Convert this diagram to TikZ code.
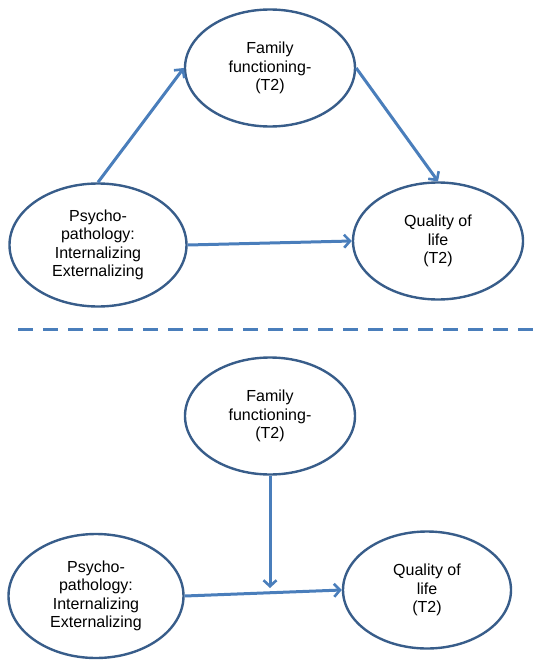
\documentclass[tikz,border=0pt]{standalone}
\usepackage{fontspec}
\setmainfont{Liberation Sans}
\usepackage{tikz}
\usetikzlibrary{shapes.geometric}
\usetikzlibrary{arrows.meta}
\definecolor{ellcol}{RGB}{56,93,138}
\definecolor{arrcol}{RGB}{74,126,187}

\begin{document}
\begin{tikzpicture}[x=1pt,y=-1pt,
    var/.style={ellipse,draw=ellcol,line width=2.4pt,inner sep=0pt,
        minimum width=170pt,minimum height=117pt,align=center,
        font=\fontsize{16}{18.4}\selectfont},
    path/.style={draw=arrcol,line width=3pt,
        -{Straight Barb[length=6pt,width=13pt,line width=2.6pt]}}]
\useasboundingbox (0,0) rectangle (536,661);
% top: mediation
\node[var] (fam1) at (270,68) {Family\\functioning-\\(T2)};
\node[var,minimum width=177pt,minimum height=123pt] (psy1) at (98,245) {Psycho-\\pathology:\\Internalizing\\Externalizing};
\node[var] (qol1) at (438,241) {Quality of\\life\\(T2)};
\draw[path] (psy1.north) -- (fam1.west);
\draw[path] (fam1.east) -- (qol1.north);
\draw[path] (psy1.east) -- (qol1.west);
% separator
\coordinate (sepl) at (18,329);
\coordinate (sepr) at (536,329);
\draw[arrcol,line width=3pt,dash pattern=on 15pt off 10pt] (sepl) -- (sepr);
% bottom: moderation
\node[var] (fam2) at (270,416) {Family\\functioning-\\(T2)};
\node[var,minimum width=175pt,minimum height=124pt] (psy2) at (96,596) {Psycho-\\pathology:\\Internalizing\\Externalizing};
\node[var,minimum width=168pt] (qol2) at (427,590) {Quality of\\life\\(T2)};
\coordinate (mod) at (270,588);
\draw[path] (psy2.east) -- (qol2.west);
\draw[path] (fam2.south) -- (mod);
\end{tikzpicture}
\end{document}
